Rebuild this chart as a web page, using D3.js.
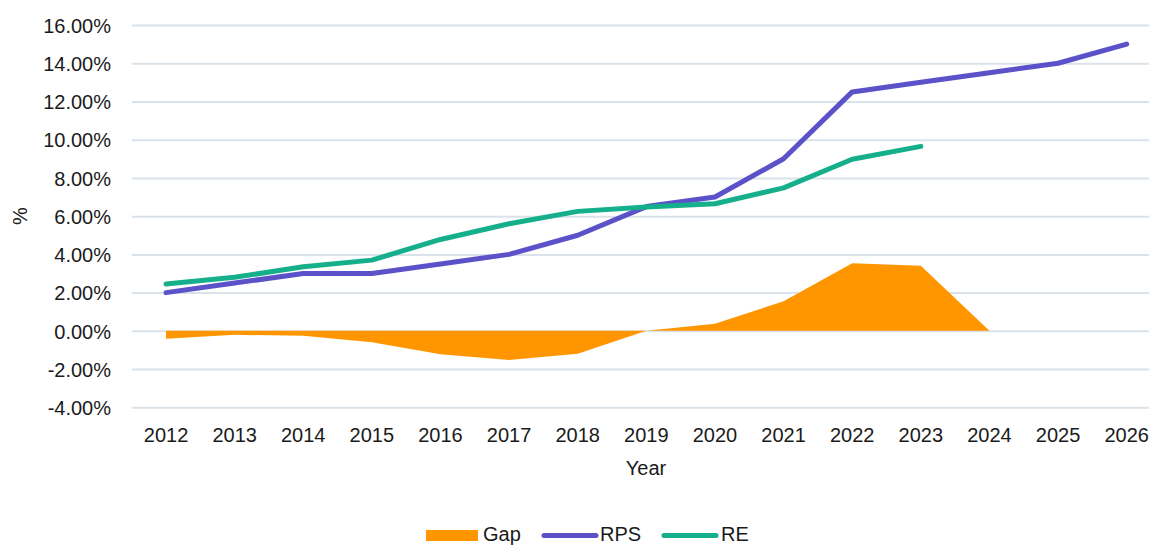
<!DOCTYPE html>
<meta charset="utf-8">
<style>
body { margin: 0; background: #fff; }
svg { display: block; font-family: "Liberation Sans", Arial, sans-serif; }
.grid line { stroke: #dae2ea; stroke-width: 2px; }
.grid path { display: none; }
.tick text { fill: #1a1a1a; font-size: 20px; }
.line { fill: none; stroke-width: 5px; stroke-linecap: round; stroke-linejoin: round; }
</style>
<body>
<svg width="1149" height="545"></svg>
<script src="https://cdnjs.cloudflare.com/ajax/libs/d3/7.8.5/d3.min.js"></script>
<script>

var years = ["2012","2013","2014","2015","2016","2017","2018","2019","2020","2021","2022","2023","2024","2025","2026"];
var gap = [-0.42, -0.21, -0.26, -0.6, -1.22, -1.52, -1.2, 0, 0.37, 1.55, 3.54, 3.4, 0, null, null];
var rps = [2, 2.5, 3, 3, 3.5, 4, 5, 6.5, 7, 9, 12.5, 13, 13.5, 14, 15];
var re  = [2.45, 2.8, 3.35, 3.7, 4.78, 5.6, 6.25, 6.48, 6.65, 7.48, 8.98, 9.65, null, null, null];
var yTicks = [-4, -2, 0, 2, 4, 6, 8, 10, 12, 14, 16];

var colors = {gap: "#ff9600", rps: "#5b52c9", re: "#15b08b"};

var svg = d3.select("svg");

var x = d3.scaleBand()
    .domain(years)
    .range([131.7, 1161]);

var y = d3.scaleLinear()
    .domain([-4, 16])
    .range([407.3, 25]);

var cx = function(i) { return x(years[i]) + x.bandwidth() / 2; };

// gridlines
var grid = svg.append("g")
    .attr("class", "grid")
    .attr("transform", "translate(131.7,0)")
    .call(d3.axisLeft(y).tickValues(yTicks).tickSize(-1030).tickFormat(""));

// y labels
var yAxis = svg.append("g")
    .attr("transform", "translate(111,0)")
    .call(d3.axisLeft(y).tickValues(yTicks).tickSize(0).tickPadding(0)
      .tickFormat(function(d) { return d.toFixed(2) + "%"; }));
yAxis.select(".domain").remove();
yAxis.selectAll("text").attr("dy", "0.36em");

// x labels
var xAxis = svg.append("g")
    .attr("transform", "translate(0,442)")
    .call(d3.axisBottom(x).tickSize(0).tickPadding(0));
xAxis.select(".domain").remove();
xAxis.selectAll("text").attr("dy", 0).attr("y", 0);

// axis titles
svg.append("text")
    .attr("x", 646).attr("y", 475)
    .attr("text-anchor", "middle")
    .style("font-size", "20px").style("fill", "#1a1a1a")
    .text("Year");

svg.append("text")
    .attr("transform", "translate(27,216) rotate(-90)")
    .attr("text-anchor", "middle")
    .style("font-size", "20px").style("fill", "#1a1a1a")
    .text("%");

// gap area
var area = d3.area()
    .defined(function(d) { return d != null; })
    .x(function(d, i) { return cx(i); })
    .y0(y(0))
    .y1(function(d) { return y(d); });

svg.append("path")
    .datum(gap)
    .attr("d", area)
    .style("fill", colors.gap);

var line = d3.line()
    .defined(function(d) { return d != null; })
    .x(function(d, i) { return cx(i); })
    .y(function(d) { return y(d); });

svg.append("path")
    .datum(rps)
    .attr("class", "line")
    .attr("d", line)
    .style("stroke", colors.rps);

svg.append("path")
    .datum(re)
    .attr("class", "line")
    .attr("d", line)
    .style("stroke", colors.re);

// legend
var legend = svg.append("g").style("font-size", "20px").style("fill", "#1a1a1a");

legend.append("rect")
    .attr("x", 426).attr("y", 530).attr("width", 52).attr("height", 11)
    .style("fill", colors.gap);
legend.append("text").attr("x", 483).attr("y", 541).text("Gap");

legend.append("line")
    .attr("x1", 544).attr("x2", 596).attr("y1", 535.5).attr("y2", 535.5)
    .attr("class", "line").style("stroke", colors.rps);
legend.append("text").attr("x", 600).attr("y", 541).text("RPS");

legend.append("line")
    .attr("x1", 664).attr("x2", 716).attr("y1", 535.5).attr("y2", 535.5)
    .attr("class", "line").style("stroke", colors.re);
legend.append("text").attr("x", 721).attr("y", 541).text("RE");

</script>
</body>
